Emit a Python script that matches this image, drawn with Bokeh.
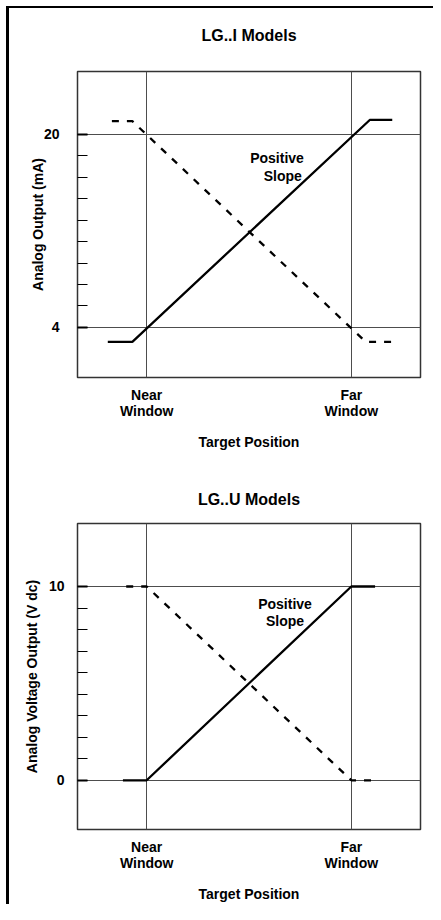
from bokeh.plotting import figure
from bokeh.models import FixedTicker, LinearAxis
from bokeh.layouts import column
from bokeh.embed import file_html
from bokeh.resources import INLINE
from bokeh.core.properties import value
import numpy as np

FONT = "Liberation Sans"

# ---------- data: top chart (LG..I, current output) ----------
i_title = "LG..I Models"
i_ylabel = "Analog Output (mA)"
i_major = [4, 20]
i_minor = list(np.linspace(4, 20, 10))
i_pos_x = [-0.19, -0.07, 1.09, 1.20]
i_pos_y = [2.8, 2.8, 21.2, 21.2]
i_neg_x = [-0.17, -0.07, 1.07, 1.20]
i_neg_y = [21.1, 21.1, 2.8, 2.8]

# ---------- data: bottom chart (LG..U, voltage output) ----------
u_title = "LG..U Models"
u_ylabel = "Analog Voltage Output (V dc)"
u_major = [0, 10]
u_minor = list(np.linspace(0, 10, 10))
u_pos_x = [-0.116, 0.0, 1.0, 1.116]
u_pos_y = [0, 0, 10, 10]
u_neg_x = [-0.10, 0.0, 1.0, 1.116]
u_neg_y = [10, 10, 0, 0]

# shared x categories
x_ticks = [0, 1]
x_labels = {0: "Near\nWindow", 1: "Far\nWindow"}
x_axis_label = "Target Position"
slope_lines = ["Positive", "Slope"]

W, H = 433, 452
FW, FH = 347, 311
TOP = 71
BOTTOM = H - TOP - FH

BAR_LEFT = "linear-gradient(#000,#000) 6px 0px / 3px 100% no-repeat"
BAR_LEFT_TOP = "linear-gradient(#000,#000) 6px 6px / 3px calc(100% - 6px) no-repeat"
BAR_TOP = "linear-gradient(#000,#000) 6px 6px / calc(100% - 6px) 2px no-repeat"


def styled_text(obj, prefix, size="14px"):
    setattr(obj, prefix + "_text_font", FONT)
    setattr(obj, prefix + "_text_font_size", size)
    setattr(obj, prefix + "_text_font_style", "bold")
    setattr(obj, prefix + "_text_color", "black")


def make_plot(title, ylabel, major, minor, yrange, pos_x, pos_y, neg_x, neg_y,
              left, title_standoff, tick_standoff, label_standoff,
              txt_x, txt_y, txt_align, background):
    p = figure(width=W, height=H, output_backend="svg", toolbar_location=None,
               x_range=(-0.338, 1.338), y_range=yrange,
               min_border_left=left, min_border_right=W - left - FW,
               min_border_top=TOP, min_border_bottom=BOTTOM,
               styles={"background": background})
    p.outline_line_color = "#333333"
    p.outline_line_width = 1.5
    p.background_fill_color = "white"
    p.border_fill_color = None

    # grids
    p.xgrid.ticker = FixedTicker(ticks=x_ticks)
    p.ygrid.ticker = FixedTicker(ticks=major)
    for g in (p.xgrid, p.ygrid):
        g.grid_line_color = "#4d4d4d"
        g.grid_line_width = 1

    # y axis
    ya = p.left[0]
    ya.ticker = FixedTicker(ticks=major, minor_ticks=minor)
    ya.axis_line_color = None
    ya.major_tick_in = 10
    ya.major_tick_out = 0
    ya.major_tick_line_width = 2
    ya.major_tick_line_color = "black"
    ya.minor_tick_in = 10
    ya.minor_tick_out = 0
    ya.minor_tick_line_width = 1.2
    ya.minor_tick_line_color = "black"
    ya.major_label_standoff = tick_standoff
    styled_text(ya, "major_label")
    ya.axis_label = ylabel
    ya.axis_label_standoff = label_standoff
    styled_text(ya, "axis_label")

    # x axis
    xa = p.below[0]
    xa.ticker = FixedTicker(ticks=x_ticks, minor_ticks=[])
    xa.major_label_overrides = x_labels
    xa.axis_line_color = None
    xa.major_tick_in = 0
    xa.major_tick_out = 0
    xa.major_label_standoff = 9
    styled_text(xa, "major_label")
    xa.major_label_text_line_height = 1.0
    xa.axis_label = x_axis_label
    xa.axis_label_standoff = 12
    styled_text(xa, "axis_label")

    # title: drawn as the label of an empty axis above the frame
    tax = LinearAxis(ticker=FixedTicker(ticks=[], minor_ticks=[]),
                     axis_label=title, axis_line_color=None,
                     major_tick_in=0, major_tick_out=0,
                     minor_tick_in=0, minor_tick_out=0, major_label_standoff=0,
                     axis_label_standoff=title_standoff)
    styled_text(tax, "axis_label", "16px")
    p.add_layout(tax, "above")

    # curves
    p.line(neg_x, neg_y, line_color="black", line_width=2.3, line_dash="7 8")
    p.line(pos_x, pos_y, line_color="black", line_width=2.3)

    # annotation text
    p.text(x=txt_x, y=txt_y, text=slope_lines, text_font=value(FONT),
           text_font_size="14px", text_font_style="bold", text_color="black",
           text_align=txt_align, text_baseline="middle")
    return p


p1 = make_plot(i_title, i_ylabel, i_major, i_minor, (-0.16, 25.22),
               i_pos_x, i_pos_y, i_neg_x, i_neg_y,
               left=73, title_standoff=28, tick_standoff=18, label_standoff=-5,
               txt_x=[0.768, 0.758], txt_y=[18.04, 16.57], txt_align="right",
               background=BAR_LEFT_TOP + ", " + BAR_TOP + ", #ffffff")
p2 = make_plot(u_title, u_ylabel, u_major, u_minor, (-2.54, 13.25),
               u_pos_x, u_pos_y, u_neg_x, u_neg_y,
               left=77, title_standoff=16, tick_standoff=13, label_standoff=6,
               txt_x=[0.676, 0.676], txt_y=[9.09, 8.22], txt_align="center",
               background=BAR_LEFT + ", #ffffff")

layout = column(p1, p2, spacing=0)

open("out.html", "w").write(file_html(layout, INLINE))
